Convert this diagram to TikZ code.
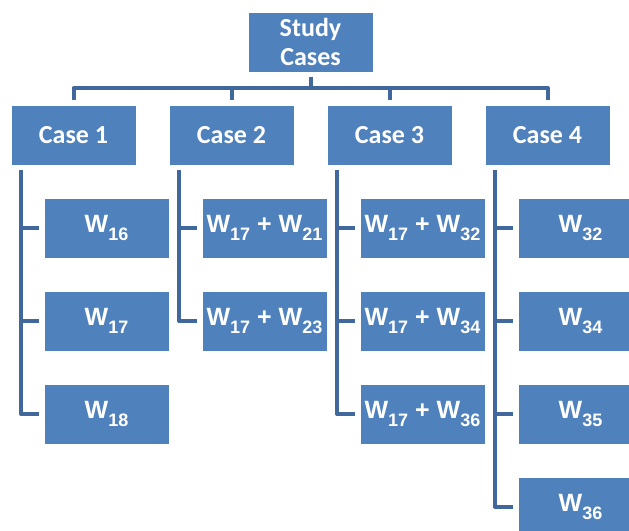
\documentclass[tikz,border=0pt]{standalone}
\usepackage{fontspec}
\setmainfont{Carlito}
\newfontfamily\labelfont{Liberation Sans}
\usetikzlibrary{calc}
\definecolor{boxblue}{RGB}{79,129,189}
\definecolor{linkblue}{RGB}{65,104,156}
\newcommand{\RowTop}{228}
\newcommand{\RowStep}{93}
\newcommand{\Wlbl}[1]{W\raisebox{-8pt}{\fontsize{18}{18}\selectfont #1}}
\tikzset{
  casebox/.style={
    fill=boxblue, draw=white, line width=0.6pt,
    minimum width=125pt, minimum height=60pt,
    inner sep=0pt, outer sep=5pt, align=center,
    text=white, font=\fontsize{26}{29}\selectfont\bfseries
  },
  wbox/.style={casebox, font=\labelfont\bfseries\fontsize{25}{25}\selectfont},
  link/.style={draw=linkblue, line width=4pt, line join=round}
}
\newcommand{\DrawCaseColumn}[3]{%
  \foreach \lbl [count=\rowi] in {#3} {
    \pgfmathsetmacro{\RowY}{\RowTop+(\rowi-1)*\RowStep}
    \node[wbox] (#1w\rowi) at (#2,\RowY) {\lbl};
    \draw[link] ([xshift=15pt]#1.south west) |- (#1w\rowi.west);
  }
}

\begin{document}
\begin{tikzpicture}[x=1pt,y=-1pt]
  \useasboundingbox (0,0) rectangle (629,530);
  \clip (0,0) rectangle (629,530);

  \node[casebox] (study) at (310.5,42) {Study\\Cases};

  \node[casebox] (case1) at (73.5,135) {Case 1};
  \node[casebox] (case2) at (231.5,135) {Case 2};
  \node[casebox] (case3) at (389.5,135) {Case 3};
  \node[casebox] (case4) at (547.5,135) {Case 4};

  \foreach \c in {case1,case2,case3,case4}
    \draw[link] (study.south) -- ++(0,11) -| (\c.north);

  \DrawCaseColumn{case1}{106.5}{\Wlbl{16},\Wlbl{17},\Wlbl{18}}
  \DrawCaseColumn{case2}{264.5}{\Wlbl{17} + \Wlbl{21},\Wlbl{17} + \Wlbl{23}}
  \DrawCaseColumn{case3}{422.5}{\Wlbl{17} + \Wlbl{32},\Wlbl{17} + \Wlbl{34},\Wlbl{17} + \Wlbl{36}}
  \DrawCaseColumn{case4}{580.5}{\Wlbl{32},\Wlbl{34},\Wlbl{35},\Wlbl{36}}
\end{tikzpicture}
\end{document}
